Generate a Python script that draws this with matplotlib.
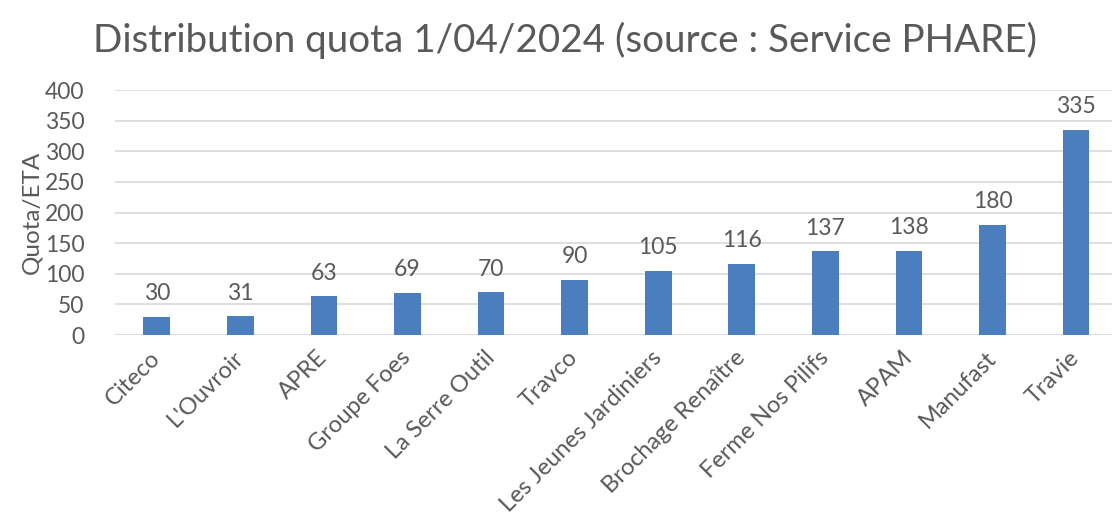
import matplotlib.pyplot as plt

# données
structures = ["Citeco", "L'Ouvroir", "APRE", "Groupe Foes", "La Serre Outil", "Travco",
              "Les Jeunes Jardiniers", "Brochage Renaître", "Ferme Nos Pilifs", "APAM",
              "Manufast", "Travie"]
quota = [30, 31, 63, 69, 70, 90, 105, 116, 137, 138, 180, 335]
y_ticks = [0, 50, 100, 150, 200, 250, 300, 350, 400]

plt.rcParams['font.family'] = ['Lato', 'DejaVu Sans']
grey = '#595959'

fig = plt.figure(figsize=(11.12, 5.29), dpi=100)
ax = fig.add_axes([0.1034, 0.3667, 0.8966, 0.463])

x = range(len(structures))
bars = ax.bar(x, quota, width=0.32, color='#4a7ebf', zorder=3)

for xi, v in zip(x, quota):
    ax.annotate(str(v), (xi, v), xytext=(0, 9), textcoords='offset points',
                ha='center', va='bottom', fontsize=16.5, color=grey)

ax.set_ylim(0, 400)
ax.set_xlim(-0.5, 11.43)
ax.set_yticks(y_ticks)
ax.set_xticks(list(x))
ax.set_xticklabels(structures, rotation=45, ha='right', va='center',
                   rotation_mode='anchor', fontsize=17)
ax.tick_params(axis='both', length=0, labelcolor=grey)
ax.tick_params(axis='y', labelsize=16.5, pad=22)
ax.tick_params(axis='x', pad=14)
ax.grid(axis='y', color='#d9d9d9', linewidth=1.2, zorder=0)
for s in ax.spines.values():
    s.set_visible(False)

ax.set_ylabel('Quota/ETA', fontsize=17.5, color=grey, labelpad=2)

fig.text(0.508, 1 - 40 / 529, 'Distribution quota 1/04/2024 (source : Service PHARE)',
         ha='center', va='center', fontsize=27.8, color=grey)

fig.savefig('out.png', dpi=100)
